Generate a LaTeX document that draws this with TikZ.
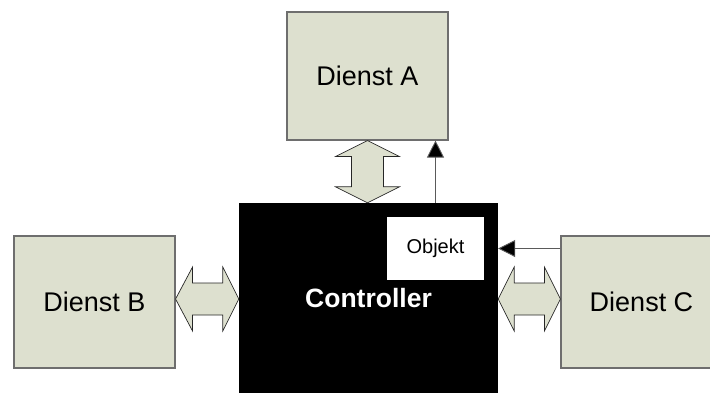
\documentclass[tikz,border=0pt]{standalone}
\usepackage{fontspec}
\setmainfont{Liberation Sans}
\usetikzlibrary{calc,arrows.meta}

\definecolor{svcfill}{RGB}{221,224,207}
\definecolor{svcline}{RGB}{110,110,110}
\definecolor{wireline}{RGB}{90,90,90}

\tikzset{
  svc/.style={draw=svcline, line width=1.1pt, fill=svcfill, inner sep=0pt,
    font=\fontsize{27}{31}\selectfont},
  ctrlbox/.style={fill=black, inner sep=0pt, text=white,
    font=\fontsize{26.5}{30}\selectfont\bfseries},
  objbox/.style={fill=white, inner sep=0pt, font=\fontsize{20}{24}\selectfont},
  dblarrow/.style={draw=black!85, line width=0.7pt, fill=svcfill, line join=miter},
  wire/.style={draw=wireline, line width=0.9pt,
    -{Triangle[length=17pt,width=17pt,fill=black]}},
}

\begin{document}
\begin{tikzpicture}[x=1pt,y=-1pt]
  \useasboundingbox (0,0) rectangle (710,392);

  % services and controller
  \node[svc, minimum width=161pt, minimum height=128pt] (A) at (367.5,76) {Dienst A};
  \node[svc, minimum width=161pt, minimum height=132pt] (B) at (94.5,302) {Dienst B};
  \node[svc, minimum width=161pt, minimum height=132pt] (C) at (641.5,302) {Dienst C};
  \node[ctrlbox, minimum width=259pt, minimum height=190pt] (ctrl) at (368.5,298) {Controller};
  \node[objbox, minimum width=97pt, minimum height=63pt] (obj) at (435.5,248.5) {Objekt};

  % fat double arrow between Dienst A and the controller
  \coordinate (a1) at (A.south);
  \coordinate (a2) at (A.south |- ctrl.north);
  \draw[dblarrow] (a1) -- ($(a1)+(32,16)$) -- ($(a1)+(16,16)$) -- ($(a2)+(16,-16)$)
    -- ($(a2)+(32,-16)$) -- (a2) -- ($(a2)+(-32,-16)$) -- ($(a2)+(-16,-16)$)
    -- ($(a1)+(-16,16)$) -- ($(a1)+(-32,16)$) -- cycle;

  % fat double arrow between Dienst B and the controller
  \coordinate (b1) at ($(B.east)+(0,-3)$);
  \coordinate (b2) at (b1 -| ctrl.west);
  \draw[dblarrow] (b1) -- ($(b1)+(17,-32)$) -- ($(b1)+(17,-16)$) -- ($(b2)+(-16,-16)$)
    -- ($(b2)+(-16,-32)$) -- (b2) -- ($(b2)+(-16,32)$) -- ($(b2)+(-16,16)$)
    -- ($(b1)+(17,16)$) -- ($(b1)+(17,32)$) -- cycle;

  % fat double arrow between the controller and Dienst C
  \coordinate (c1) at ($(ctrl.east |- C.west)+(0,-3)$);
  \coordinate (c2) at (c1 -| C.west);
  \draw[dblarrow] (c1) -- ($(c1)+(16,-32)$) -- ($(c1)+(16,-16)$) -- ($(c2)+(-16,-16)$)
    -- ($(c2)+(-16,-32)$) -- (c2) -- ($(c2)+(-16,32)$) -- ($(c2)+(-16,16)$)
    -- ($(c1)+(16,16)$) -- ($(c1)+(16,32)$) -- cycle;

  % object flow: from Dienst C into the controller, from the controller up to Dienst A
  \coordinate (oin) at (C.west |- obj.center);
  \coordinate (oout) at (obj.center |- ctrl.north);
  \draw[wire] (oin) -- (oin -| ctrl.east);
  \draw[wire] (oout) -- (oout |- A.south);
\end{tikzpicture}
\end{document}
